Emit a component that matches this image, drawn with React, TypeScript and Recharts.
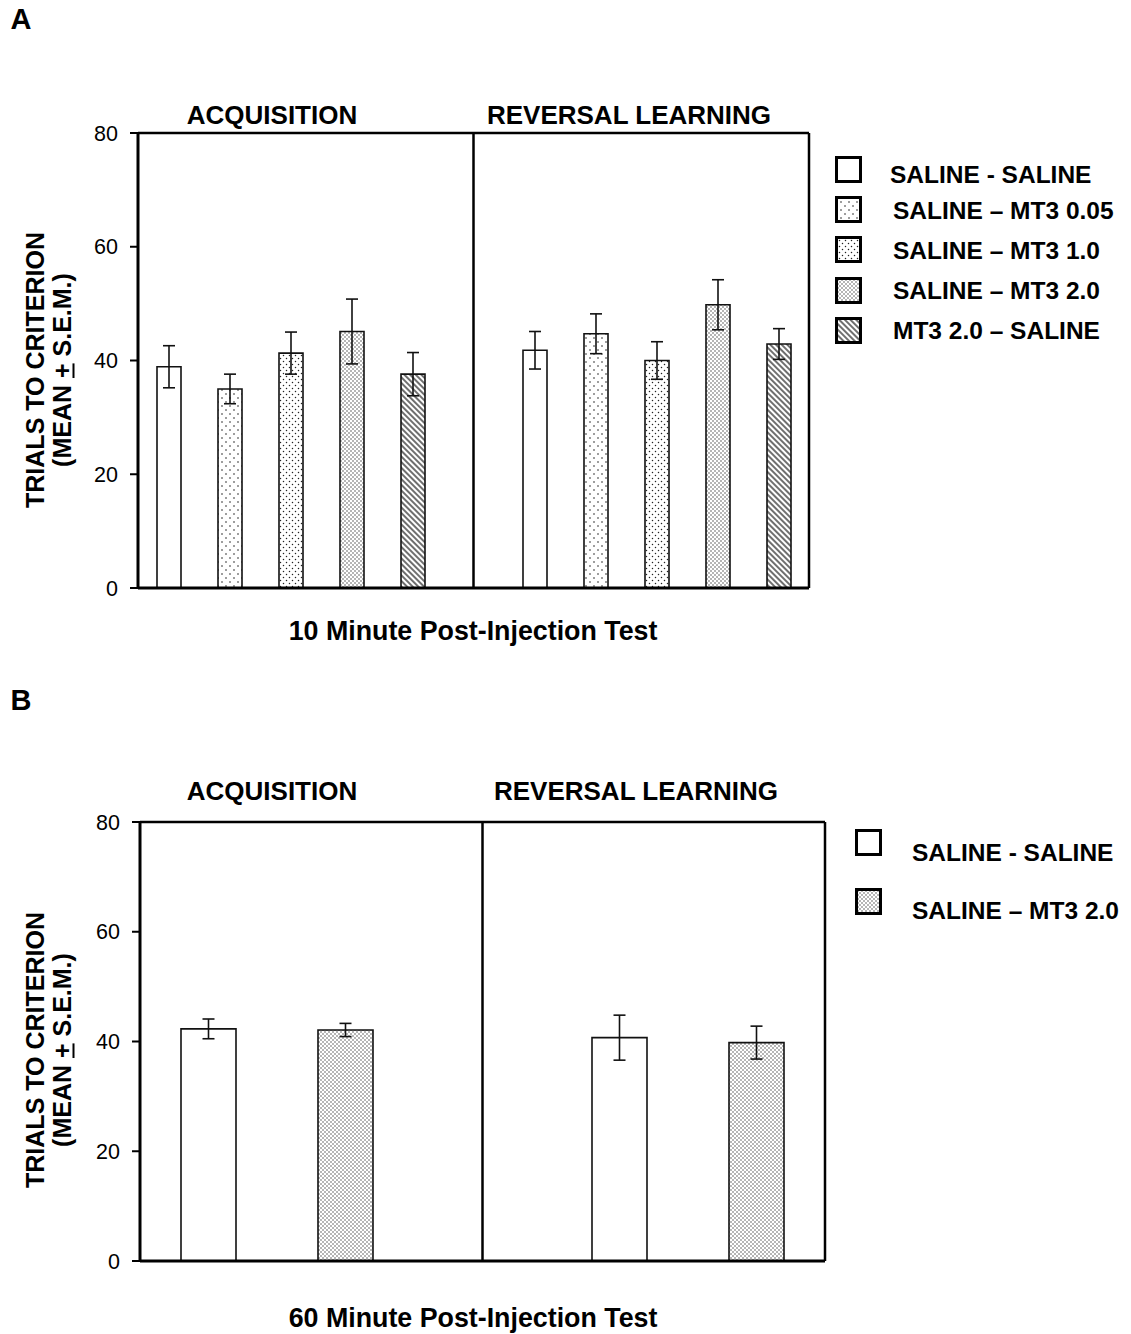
import React from "react";
import {
  BarChart,
  Bar,
  XAxis,
  YAxis,
  ErrorBar,
  Cell,
  ReferenceLine,
} from "recharts";

// panel A - 10 minute post-injection test
const treatmentsA = [
  "SALINE - SALINE",
  "SALINE – MT3 0.05",
  "SALINE – MT3 1.0",
  "SALINE – MT3 2.0",
  "MT3 2.0 – SALINE",
];
const acqMeanA = [38.9, 35.0, 41.3, 45.1, 37.6];
const acqSemA = [3.7, 2.6, 3.7, 5.7, 3.8];
const revMeanA = [41.8, 44.7, 40.0, 49.8, 42.9];
const revSemA = [3.3, 3.5, 3.3, 4.4, 2.7];

// panel B - 60 minute post-injection test
const treatmentsB = ["SALINE - SALINE", "SALINE – MT3 2.0"];
const acqMeanB = [42.3, 42.1];
const acqSemB = [1.8, 1.2];
const revMeanB = [40.7, 39.8];
const revSemB = [4.1, 3.0];

const phases = ["ACQUISITION", "REVERSAL LEARNING"];
const yTicks = [0, 20, 40, 60, 80];

const FONT = "Arial, 'Liberation Sans', Helvetica, sans-serif";
const W = 1131;
const H = 667;

// pattern fill per treatment
const fillsA = ["#fff", "url(#dotsSparse)", "url(#dotsMid)", "url(#dotsDense)", "url(#hatch)"];
const fillsB = ["#fff", "url(#dotsDense)"];

type Row = { key: string; mean: number | null; sem: number | null; fill: string };

function buildRows(
  acqM: number[],
  acqS: number[],
  revM: number[],
  revS: number[],
  fills: string[]
): Row[] {
  return [
    ...acqM.map((m, i) => ({ key: `acq-${i}`, mean: m, sem: acqS[i], fill: fills[i] })),
    { key: "gap", mean: null, sem: null, fill: "none" },
    ...revM.map((m, i) => ({ key: `rev-${i}`, mean: m, sem: revS[i], fill: fills[i] })),
  ];
}

const Patterns = () => (
  <svg width={0} height={0} style={{ position: "absolute" }}>
    <defs>
      <pattern id="dotsSparse" width={8} height={8} patternUnits="userSpaceOnUse">
        <rect width={8} height={8} fill="#fff" />
        <circle cx={2} cy={2} r={0.8} fill="#222" />
        <circle cx={6} cy={6} r={0.8} fill="#222" />
      </pattern>
      <pattern id="dotsMid" width={6} height={6} patternUnits="userSpaceOnUse">
        <rect width={6} height={6} fill="#fff" />
        <circle cx={1.5} cy={1.5} r={0.75} fill="#222" />
        <circle cx={4.5} cy={4.5} r={0.75} fill="#222" />
      </pattern>
      <pattern id="dotsDense" width={4} height={4} patternUnits="userSpaceOnUse">
        <rect width={4} height={4} fill="#fff" />
        <circle cx={1} cy={1} r={0.7} fill="#333" />
        <circle cx={3} cy={3} r={0.7} fill="#333" />
      </pattern>
      <pattern
        id="hatch"
        width={4}
        height={4}
        patternUnits="userSpaceOnUse"
        patternTransform="rotate(-45)"
      >
        <rect width={4} height={4} fill="#fff" />
        <line x1={1} y1={0} x2={1} y2={4} stroke="#222" strokeWidth={1.3} />
      </pattern>
    </defs>
  </svg>
);

const YTick = (props: any) => {
  const { x, y, payload } = props;
  return (
    <text
      x={x}
      y={y}
      dy={7.5}
      textAnchor="end"
      fontSize={21.5}
      fontFamily={FONT}
      fill="#000"
    >
      {payload.value}
    </text>
  );
};

const Txt = ({
  x,
  y,
  size,
  bold = true,
  anchor = "center",
  rotate = false,
  children,
}: {
  x: number;
  y: number;
  size: number;
  bold?: boolean;
  anchor?: "center" | "left";
  rotate?: boolean;
  children: React.ReactNode;
}) => (
  <div
    style={{
      position: "absolute",
      left: x,
      top: y,
      fontFamily: FONT,
      fontSize: size,
      fontWeight: bold ? "bold" : "normal",
      lineHeight: 1,
      whiteSpace: "nowrap",
      color: "#000",
      transform: `translate(${anchor === "center" ? "-50%" : "0"}, -50%)${
        rotate ? " rotate(-90deg)" : ""
      }`,
      transformOrigin: anchor === "center" ? "center" : "left center",
    }}
  >
    {children}
  </div>
);

type PanelProps = {
  top: number;
  letter: string;
  letterY: number;
  rows: Row[];
  barSize: number;
  plot: { left: number; right: number; top: number; bottom: number };
  phaseX: number[];
  phaseY: number;
  titleY: number;
  title: string;
  yLabelY: number;
  treatments: string[];
  fills: string[];
  swatchX: number;
  swatchY: number[];
  legendX: number[];
  legendY: number[];
};

const Panel = (p: PanelProps) => {
  const xAxisH = 4;
  return (
    <div style={{ position: "absolute", left: 0, top: p.top, width: W, height: H }}>
      <BarChart
        width={W}
        height={H}
        data={p.rows}
        margin={{
          top: p.plot.top,
          left: p.plot.left - 60,
          right: W - p.plot.right - 2,
          bottom: H - p.plot.bottom - xAxisH,
        }}
      >
        <XAxis
          dataKey="key"
          height={xAxisH}
          tick={false}
          tickLine={false}
          axisLine={{ stroke: "#000", strokeWidth: 3 }}
        />
        <YAxis
          width={60}
          domain={[0, 80]}
          ticks={yTicks}
          tickSize={8}
          tickMargin={12}
          tickLine={{ stroke: "#000", strokeWidth: 2 }}
          axisLine={{ stroke: "#000", strokeWidth: 3 }}
          tick={<YTick />}
        />
        <YAxis
          yAxisId="frame"
          orientation="right"
          width={2}
          domain={[0, 80]}
          tick={false}
          tickLine={false}
          axisLine={{ stroke: "#000", strokeWidth: 2.5 }}
        />
        <ReferenceLine y={80} stroke="#000" strokeWidth={2.5} />
        <ReferenceLine x="gap" stroke="#000" strokeWidth={2.5} />
        <Bar
          dataKey="mean"
          barSize={p.barSize}
          stroke="#111"
          strokeWidth={1.6}
          isAnimationActive={false}
        >
          {p.rows.map((r) => (
            <Cell key={r.key} fill={r.fill} />
          ))}
          <ErrorBar dataKey="sem" width={6} stroke="#111" strokeWidth={1.6} direction="y" />
        </Bar>
      </BarChart>

      <Txt x={21} y={p.letterY} size={29}>
        {p.letter}
      </Txt>
      {phases.map((ph, i) => (
        <Txt key={ph} x={p.phaseX[i]} y={p.phaseY} size={26}>
          {ph}
        </Txt>
      ))}
      <Txt x={473} y={p.titleY} size={26.8}>
        {p.title}
      </Txt>
      <Txt x={35} y={p.yLabelY} size={25} rotate>
        TRIALS TO CRITERION
      </Txt>
      <Txt x={62} y={p.yLabelY} size={25} rotate>
        (MEAN <u>+</u> S.E.M.)
      </Txt>

      {p.treatments.map((t, i) => (
        <React.Fragment key={t}>
          <svg
            width={27}
            height={27}
            style={{ position: "absolute", left: p.swatchX, top: p.swatchY[i] - 13.5 }}
          >
            <rect x={1.5} y={1.5} width={24} height={24} fill={p.fills[i]} stroke="#000" strokeWidth={3} />
          </svg>
          <Txt x={p.legendX[i]} y={p.legendY[i]} size={24.5} anchor="left">
            {t}
          </Txt>
        </React.Fragment>
      ))}
    </div>
  );
};

export default function App() {
  const rowsA = buildRows(acqMeanA, acqSemA, revMeanA, revSemA, fillsA);
  const rowsB = buildRows(acqMeanB, acqSemB, revMeanB, revSemB, fillsB);
  return (
    <div
      style={{
        position: "absolute",
        left: 0,
        top: 0,
        width: W,
        height: 1334,
        background: "#fff",
        overflow: "hidden",
      }}
    >
      <Patterns />
      <Panel
        top={0}
        letter="A"
        letterY={19}
        rows={rowsA}
        barSize={24}
        plot={{ left: 138, right: 809, top: 133, bottom: 588 }}
        phaseX={[272, 629]}
        phaseY={115}
        titleY={631}
        title="10 Minute Post-Injection Test"
        yLabelY={370}
        treatments={treatmentsA}
        fills={fillsA}
        swatchX={835}
        swatchY={[169.5, 209, 249.5, 290, 330.5]}
        legendX={[890, 893, 893, 893, 893]}
        legendY={[175, 210.5, 250.5, 290.5, 330.5]}
      />
      <Panel
        top={667}
        letter="B"
        letterY={33}
        rows={rowsB}
        barSize={55}
        plot={{ left: 140, right: 825, top: 155, bottom: 594 }}
        phaseX={[272, 636]}
        phaseY={124}
        titleY={651}
        title="60 Minute Post-Injection Test"
        yLabelY={383}
        treatments={treatmentsB}
        fills={fillsB}
        swatchX={855}
        swatchY={[175.5, 234.5]}
        legendX={[912, 912]}
        legendY={[185.5, 243.5]}
      />
    </div>
  );
}
